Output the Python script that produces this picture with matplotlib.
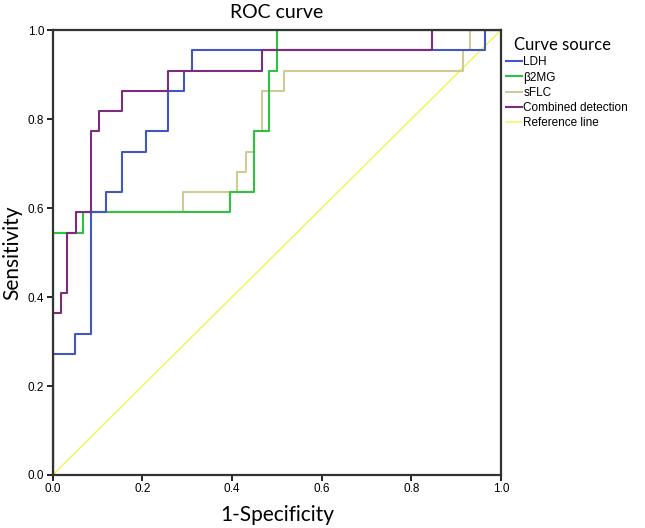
import numpy as np
import matplotlib
matplotlib.use("Agg")
import matplotlib.pyplot as plt

# ROC-Punkte (1-Specificity, Sensitivity), Sprungpunkte fuer steps-post
ldh_fpr = [0, 0, 0.050, 0.085, 0.118, 0.154, 0.208, 0.258, 0.293, 0.310, 0.965, 1.0]
ldh_tpr = [0, 0.273, 0.318, 0.591, 0.636, 0.727, 0.773, 0.864, 0.909, 0.955, 1.0, 1.0]

b2mg_fpr = [0, 0, 0.068, 0.396, 0.448, 0.483, 0.500, 1.0]
b2mg_tpr = [0, 0.545, 0.591, 0.636, 0.773, 0.909, 1.0, 1.0]

sflc_fpr = [0, 0, 0.068, 0.291, 0.412, 0.431, 0.448, 0.467, 0.517, 0.915, 0.932, 1.0]
sflc_tpr = [0, 0.545, 0.591, 0.636, 0.682, 0.727, 0.773, 0.864, 0.909, 0.955, 1.0, 1.0]

comb_fpr = [0, 0, 0.018, 0.033, 0.051, 0.085, 0.103, 0.154, 0.258, 0.467, 0.846, 1.0]
comb_tpr = [0, 0.364, 0.409, 0.545, 0.591, 0.773, 0.818, 0.864, 0.909, 0.955, 1.0, 1.0]

ref_x = [0, 1]
ref_y = [0, 1]

labels = ["LDH", "β2MG", "sFLC", "Combined detection", "Reference line"]
farben = ["#4356c4", "#2ec23e", "#cfcb93", "#7a2d7e", "#f4f45c"]

titel_font = ["Lato", "DejaVu Sans"]
klein_font = ["Liberation Sans", "DejaVu Sans"]

fig = plt.figure(figsize=(6.45, 5.28), dpi=100)
ax = fig.add_axes([0.0817, 0.1004, 0.6950, 0.8426])

ax.plot(ref_x, ref_y, color=farben[4], lw=1.1, label=labels[4], zorder=1)
ax.plot(sflc_fpr, sflc_tpr, drawstyle="steps-post", color=farben[2], lw=1.5, label=labels[2])
ax.plot(b2mg_fpr, b2mg_tpr, drawstyle="steps-post", color=farben[1], lw=1.5, label=labels[1])
ax.plot(ldh_fpr, ldh_tpr, drawstyle="steps-post", color=farben[0], lw=1.5, label=labels[0])
ax.plot(comb_fpr, comb_tpr, drawstyle="steps-post", color=farben[3], lw=1.5, label=labels[3])

ax.set_xlim(0, 1)
ax.set_ylim(0, 1)
ticks = np.arange(0, 1.01, 0.2)
ax.set_xticks(ticks)
ax.set_yticks(ticks)
ax.set_xticklabels(["%.1f" % t for t in ticks], fontsize=8.5, family=klein_font)
ax.set_yticklabels(["%.1f" % t for t in ticks], fontsize=8.5, family=klein_font)
ax.tick_params(direction="out", length=4, width=1.2, pad=2)
for s in ax.spines.values():
    s.set_linewidth(1.6)
    s.set_color("#333333")

ax.set_title("ROC curve", fontsize=14, pad=9, family=titel_font)
ax.set_xlabel("1-Specificity", fontsize=15, labelpad=7, family=titel_font)
ax.set_ylabel("Sensitivity", fontsize=15, labelpad=4, family=titel_font)

# Legende in der SPSS-Reihenfolge
handles, lab = ax.get_legend_handles_labels()
reihenfolge = [labels.index(l) for l in lab]
hs = [h for _, h in sorted(zip(reihenfolge, handles), key=lambda p: p[0])]
leg = ax.legend(hs, labels, loc="upper left", bbox_to_anchor=(1.005, 0.99),
                frameon=False, prop={"family": klein_font, "size": 8.5},
                title="Curve source", handlelength=1.4, handletextpad=0.1,
                labelspacing=0.28, borderaxespad=0, borderpad=0.2)
leg.get_title().set_fontfamily(titel_font)
leg.get_title().set_fontsize(12)
leg._legend_box.align = "left"
leg.get_title().set_position((8, 0))

fig.savefig("out.png", dpi=100)
